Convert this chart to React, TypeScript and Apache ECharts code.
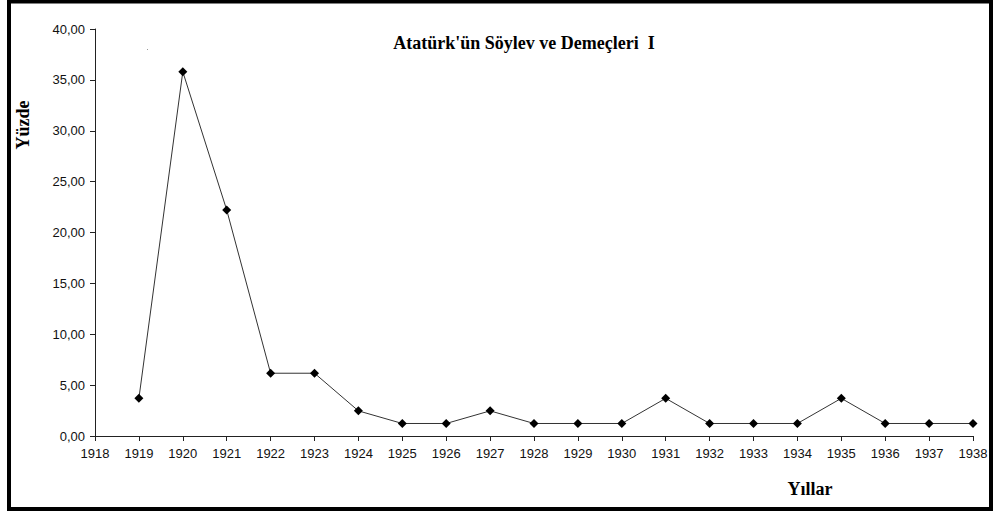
import React, { useEffect, useRef } from "react";
import * as echarts from "echarts";

const years = [1919, 1920, 1921, 1922, 1923, 1924, 1925, 1926, 1927, 1928, 1929, 1930, 1931, 1932, 1933, 1934, 1935, 1936, 1937, 1938];
const percents = [3.7, 35.8, 22.22, 6.17, 6.17, 2.47, 1.23, 1.23, 2.47, 1.23, 1.23, 1.23, 3.7, 1.23, 1.23, 1.23, 3.7, 1.23, 1.23, 1.23];
const titleText = "Atatürk'ün Söylev ve Demeçleri  I";
const yAxisTitle = "Yüzde";
const xAxisTitle = "Yıllar";

export default function App() {
  const ref = useRef<HTMLDivElement>(null);
  useEffect(() => {
    if (!ref.current) return;
    const chart = echarts.init(ref.current, null, { renderer: "svg" });
    const serif = "'Liberation Serif', 'DejaVu Serif', serif";
    const sans = "'Liberation Sans', Arial, sans-serif";
    chart.setOption({
      animation: false,
      backgroundColor: "#fff",
      grid: { left: 95, right: 27, top: 29, bottom: 77, containLabel: false },
      xAxis: {
        type: "value",
        min: 1918,
        max: 1938,
        interval: 1,
        splitLine: { show: false },
        axisLine: { lineStyle: { color: "#222", width: 1 } },
        axisTick: { show: true, length: 5, lineStyle: { color: "#222" } },
        axisLabel: { color: "#111", fontFamily: sans, fontSize: 13, margin: 11, formatter: (v: number) => String(v) },
      },
      yAxis: {
        type: "value",
        min: 0,
        max: 40,
        interval: 5,
        splitLine: { show: false },
        axisLine: { show: true, lineStyle: { color: "#222", width: 1 } },
        axisTick: { show: true, length: 5, lineStyle: { color: "#222" } },
        axisLabel: {
          color: "#111",
          fontFamily: sans,
          fontSize: 13,
          margin: 10,
          formatter: (v: number) => v.toFixed(2).replace(".", ","),
        },
      },
      series: [
        {
          type: "line",
          data: years.map((y, i) => [y, percents[i]]),
          symbol: "diamond",
          symbolSize: 9,
          itemStyle: { color: "#000" },
          lineStyle: { color: "#333", width: 1 },
        },
      ],
      graphic: [
        {
          type: "rect",
          shape: { x: 9, y: 1.5, width: 982, height: 507.5 },
          style: { fill: "none", stroke: "#000", lineWidth: 4 },
          silent: true,
        },
        {
          type: "rect",
          shape: { x: 147, y: 49, width: 1, height: 1 },
          style: { fill: "#999" },
          silent: true,
        },
        {
          type: "text",
          x: 524,
          y: 43,
          style: {
            text: titleText,
            font: `bold 18px ${serif}`,
            fill: "#000",
            textAlign: "center",
            textVerticalAlign: "middle",
          },
        },
        {
          type: "text",
          x: 23,
          y: 125,
          rotation: Math.PI / 2,
          style: {
            text: yAxisTitle,
            font: `bold 18px ${serif}`,
            fill: "#000",
            textAlign: "center",
            textVerticalAlign: "middle",
          },
        },
        {
          type: "text",
          x: 810,
          y: 489,
          style: {
            text: xAxisTitle,
            font: `bold 18px ${serif}`,
            fill: "#000",
            textAlign: "center",
            textVerticalAlign: "middle",
          },
        },
      ],
    });
    return () => chart.dispose();
  }, []);
  return (
    <div
      ref={ref}
      style={{ position: "fixed", left: 0, top: 0, width: 1000, height: 513, background: "#fff" }}
    />
  );
}
